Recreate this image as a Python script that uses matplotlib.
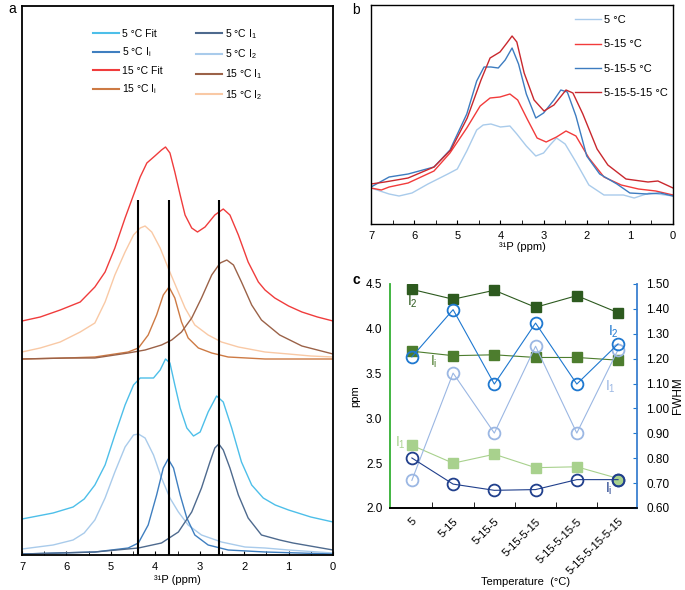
import matplotlib
matplotlib.use("Agg")
import matplotlib.pyplot as plt
from matplotlib.lines import Line2D
from matplotlib.ticker import MultipleLocator, FixedLocator

plt.rcParams['font.family'] = ['Liberation Sans', 'DejaVu Sans']
plt.rcParams['mathtext.default'] = 'regular'

# ---------------- Panel a data (ppm, intensity in arbitrary units) ----------------
a15_fit_ppm = [7.00, 6.59, 6.14, 5.69, 5.36, 5.13, 4.91, 4.68, 4.49, 4.34, 4.19, 4.01, 3.86, 3.77, 3.67, 3.56, 3.44, 3.33, 3.18, 3.05, 2.88, 2.66, 2.47, 2.32, 2.13, 1.91, 1.68, 1.53, 1.31, 1.00, 0.70, 0.35, 0.00]
a15_fit_int = [234, 238, 245, 253, 268, 283, 307, 337, 360, 378, 392, 399, 405, 408, 402, 383, 360, 340, 327, 323, 328, 340, 346, 340, 320, 293, 273, 265, 257, 249, 243, 238, 234]

a15_i2_ppm = [7.00, 6.59, 6.14, 5.69, 5.36, 5.13, 4.91, 4.68, 4.49, 4.34, 4.23, 4.08, 3.89, 3.71, 3.52, 3.33, 3.11, 2.81, 2.51, 2.13, 1.53, 1.00, 0.50, 0.00]
a15_i2_int = [203, 207, 213, 223, 232, 253, 280, 303, 320, 327, 329, 323, 307, 287, 267, 247, 230, 220, 213, 208, 203, 201, 199, 198]

a15_ii_ppm = [7.00, 6.00, 5.36, 4.91, 4.61, 4.38, 4.16, 3.97, 3.82, 3.69, 3.56, 3.41, 3.26, 3.03, 2.73, 2.36, 1.53, 0.00]
a15_ii_int = [196, 197, 198, 201, 203, 207, 220, 240, 260, 268, 257, 233, 217, 207, 202, 198, 196, 196]

a15_i1_ppm = [7.00, 6.00, 5.36, 4.61, 4.23, 3.86, 3.63, 3.41, 3.18, 2.96, 2.73, 2.54, 2.39, 2.24, 2.06, 1.83, 1.61, 1.20, 0.70, 0.35, 0.00]
a15_i1_int = [196, 197, 197, 202, 205, 210, 215, 223, 237, 257, 280, 292, 295, 290, 273, 250, 235, 220, 209, 205, 201]

a5_fit_ppm = [7.00, 6.30, 5.85, 5.60, 5.36, 5.13, 4.91, 4.68, 4.49, 4.34, 4.19, 4.04, 3.89, 3.77, 3.67, 3.56, 3.44, 3.29, 3.14, 2.99, 2.81, 2.62, 2.47, 2.28, 2.06, 1.83, 1.57, 1.30, 1.00, 0.50, 0.00]
a5_fit_int = [36, 42, 48, 56, 70, 90, 120, 150, 170, 177, 177, 177, 185, 196, 192, 170, 147, 127, 119, 123, 143, 159, 153, 127, 93, 70, 57, 50, 45, 38, 33]

a5_i2_ppm = [7.00, 6.30, 5.85, 5.60, 5.36, 5.13, 4.91, 4.68, 4.49, 4.38, 4.23, 4.04, 3.86, 3.67, 3.48, 3.26, 2.96, 2.51, 1.98, 1.53, 1.00, 0.00]
a5_i2_int = [6, 10, 15, 22, 35, 57, 83, 108, 120, 121, 117, 100, 77, 57, 43, 30, 20, 13, 8, 7, 5, 2]

a5_ii_ppm = [7.00, 5.36, 4.61, 4.38, 4.16, 3.97, 3.82, 3.71, 3.59, 3.44, 3.29, 3.11, 2.81, 2.36, 1.53, 0.00]
a5_ii_int = [1, 3, 7, 12, 30, 60, 87, 96, 87, 60, 37, 20, 10, 5, 3, 1]

a5_i1_ppm = [7.00, 5.36, 4.38, 3.86, 3.48, 3.18, 2.96, 2.77, 2.66, 2.57, 2.47, 2.32, 2.13, 1.91, 1.61, 1.20, 0.90, 0.00]
a5_i1_int = [1, 3, 7, 12, 23, 43, 67, 93, 107, 111, 105, 87, 60, 37, 20, 15, 12, 5]

vline_ppm = [4.39, 3.69, 2.57]
vline_top = 355

# ---------------- Panel b data ----------------
b_5_ppm = [7.00, 6.58, 6.35, 6.05, 5.68, 5.22, 5.00, 4.78, 4.55, 4.40, 4.22, 4.00, 3.78, 3.62, 3.40, 3.18, 3.00, 2.85, 2.70, 2.50, 2.25, 1.95, 1.60, 1.15, 0.90, 0.55, 0.00]
b_5_int = [36, 30, 28, 31, 40, 50, 55, 73, 94, 99, 100, 97, 98, 90, 78, 68, 71, 79, 86, 80, 62, 39, 29, 29, 26, 31, 28]

b_515_ppm = [7.00, 6.76, 6.58, 6.14, 5.54, 5.17, 4.78, 4.47, 4.24, 4.01, 3.78, 3.60, 3.38, 3.15, 2.94, 2.70, 2.48, 2.25, 1.95, 1.60, 1.20, 0.80, 0.40, 0.00]
b_515_int = [36, 34, 37, 41, 53, 71, 96, 118, 126, 127, 130, 124, 105, 86, 82, 87, 93, 88, 66, 47, 39, 35, 33, 29]

b_5155_ppm = [7.00, 6.58, 6.14, 5.54, 5.17, 4.78, 4.55, 4.38, 4.22, 4.05, 3.89, 3.73, 3.58, 3.40, 3.18, 3.00, 2.76, 2.60, 2.45, 2.25, 2.00, 1.70, 1.30, 1.00, 0.60, 0.30, 0.00]
b_5155_int = [37, 47, 50, 57, 74, 110, 143, 157, 157, 156, 164, 176, 160, 130, 106, 111, 124, 134, 132, 108, 68, 50, 40, 31, 30, 31, 28]

b_51515_ppm = [7.00, 6.68, 6.14, 5.54, 5.15, 4.77, 4.45, 4.24, 4.01, 3.85, 3.73, 3.62, 3.45, 3.22, 2.99, 2.76, 2.48, 2.32, 2.09, 1.76, 1.51, 1.09, 0.58, 0.35, 0.00]
b_51515_int = [40, 42, 46, 57, 74, 106, 144, 166, 172, 181, 188, 182, 151, 124, 113, 119, 134, 131, 110, 75, 59, 45, 42, 43, 36]

# ---------------- Panel c data ----------------
c_categories = ['5', '5-15', '5-15-5', '5-15-5-15', '5-15-5-15-5', '5-15-5-15-5-15']
c_ppm_I2 = [4.44, 4.33, 4.43, 4.24, 4.37, 4.18]
c_ppm_Ii = [3.75, 3.70, 3.71, 3.68, 3.68, 3.65]
c_ppm_I1 = [2.70, 2.50, 2.60, 2.45, 2.46, 2.33]
c_fwhm_I2 = [1.207, 1.397, 1.098, 1.343, 1.098, 1.259]
c_fwhm_I1 = [0.711, 1.142, 0.901, 1.250, 0.901, 1.236]
c_fwhm_Ii = [0.801, 0.696, 0.671, 0.674, 0.714, 0.714]

# ---------------- colours ----------------
col5fit, col5i, col5_1, col5_2 = '#4dbfe9', '#3f7fc0', '#4e6a8e', '#a9cbeb'
col15fit, col15i, col15_1, col15_2 = '#f03c3c', '#cd7a44', '#9b6248', '#f9c9a5'

W, H = 685, 590
fig = plt.figure(figsize=(W / 100, H / 100), dpi=100)


def box(l, t, r, b):
    return [l / W, 1 - b / H, (r - l) / W, (b - t) / H]


# ================= Panel a =================
axA = fig.add_axes(box(22, 6, 333, 555))
lw = 1.0
axA.plot(a15_fit_ppm, a15_fit_int, color=col15fit, lw=lw)
axA.plot(a15_i2_ppm, a15_i2_int, color=col15_2, lw=lw)
axA.plot(a15_ii_ppm, a15_ii_int, color=col15i, lw=lw)
axA.plot(a15_i1_ppm, a15_i1_int, color=col15_1, lw=lw)
axA.plot(a5_fit_ppm, a5_fit_int, color=col5fit, lw=lw)
axA.plot(a5_i2_ppm, a5_i2_int, color=col5_2, lw=lw)
axA.plot(a5_ii_ppm, a5_ii_int, color=col5i, lw=lw)
axA.plot(a5_i1_ppm, a5_i1_int, color=col5_1, lw=lw)
axA.vlines(vline_ppm, 0, vline_top, color='black', lw=1.5)
axA.set_xlim(7, 0)
axA.set_ylim(0, 549)
axA.set_yticks([])
axA.xaxis.set_major_locator(MultipleLocator(1))
axA.xaxis.set_minor_locator(MultipleLocator(0.5))
axA.tick_params(axis='x', which='both', direction='in', length=3, labelsize=8, pad=5)
for s in axA.spines.values():
    s.set_linewidth(1.3)
axA.set_xlabel('³¹P (ppm)', fontsize=8, labelpad=2)

handlesA = [Line2D([], [], color=c, lw=1.5) for c in
            [col5fit, col5i, col15fit, col15i, col5_1, col5_2, col15_1, col15_2]]
labelsA = ['5 °C Fit', '5 °C I$_{i}$', '15 °C Fit', '15 °C I$_{i}$',
           '5 °C I$_{1}$', '5 °C I$_{2}$', '15 °C I$_{1}$', '15 °C I$_{2}$']
axA.legend(handlesA, labelsA, ncol=2, frameon=False, fontsize=7.5,
           loc='upper left', bbox_to_anchor=(93 / W, 1 - 27 / H),
           bbox_transform=fig.transFigure, borderpad=0, borderaxespad=0,
           handlelength=2.5, handletextpad=0.3, labelspacing=0.62, columnspacing=3.2)
fig.text(8 / W, 1 - 9 / H, 'a', fontsize=10, ha='left', va='center')

# ================= Panel b =================
axB = fig.add_axes(box(371, 5, 673, 224))
axB.plot(b_5_ppm, b_5_int, color='#a9cbeb', lw=1.0, label='5 °C')
axB.plot(b_515_ppm, b_515_int, color='#f23b3b', lw=1.0, label='5-15 °C')
axB.plot(b_5155_ppm, b_5155_int, color='#3d7cc0', lw=1.0, label='5-15-5 °C')
axB.plot(b_51515_ppm, b_51515_int, color='#c9282e', lw=1.0, label='5-15-5-15 °C')
axB.set_xlim(7, 0)
axB.set_ylim(0, 219)
axB.set_yticks([])
axB.xaxis.set_major_locator(MultipleLocator(1))
axB.xaxis.set_minor_locator(MultipleLocator(0.5))
axB.tick_params(axis='x', which='both', direction='in', length=3, labelsize=8, pad=5)
for s in axB.spines.values():
    s.set_linewidth(1.0)
axB.set_xlabel('³¹P (ppm)', fontsize=8, labelpad=1)
axB.legend(frameon=False, fontsize=8, loc='upper left',
           bbox_to_anchor=(575 / W, 1 - 15 / H), bbox_transform=fig.transFigure,
           borderpad=0, borderaxespad=0, handlelength=2.35, handletextpad=0.28,
           labelspacing=1.3)
fig.text(352 / W, 1 - 10 / H, 'b', fontsize=10, ha='left', va='center')

# ================= Panel c =================
axC = fig.add_axes(box(390, 284, 637, 508))
axC2 = axC.twinx()
xs = list(range(len(c_categories)))

dg, mg, lg = '#2d5a1f', '#4d7d2e', '#a8d18d'
cb2, cb1, cbi = '#1e78d0', '#9bb7e3', '#203f8c'

axC.plot(xs, c_ppm_I2, color=dg, lw=0.8, marker='s', ms=7, mfc=dg, mec=dg, zorder=3)
axC.plot(xs, c_ppm_Ii, color=mg, lw=0.8, marker='s', ms=7, mfc=mg, mec=mg, zorder=3)
axC.plot(xs, c_ppm_I1, color=lg, lw=0.8, marker='s', ms=7, mfc=lg, mec=lg,
         markevery=[0, 1, 2, 3, 4], zorder=3)

axC2.plot(xs, c_fwhm_I1, color=cb1, lw=0.8, marker='o', ms=8.5, mfc='none', mec=cb1, mew=1.3)
axC2.plot(xs, c_fwhm_I2, color=cb2, lw=0.8, marker='o', ms=8.5, mfc='none', mec=cb2, mew=1.3)
axC2.plot(xs[-1:], c_fwhm_Ii[-1:], ls='none', marker='o', ms=8.5, mfc=lg, mec=cbi, mew=1.3)
axC2.plot(xs, c_fwhm_Ii, color=cbi, lw=0.8, marker='o', ms=8.5, mfc='none', mec=cbi, mew=1.3)

axC.set_xlim(-0.53, 5.46)
axC.set_ylim(2.0, 4.5)
axC2.set_ylim(0.6, 1.5)
axC.set_yticks([2.0, 2.5, 3.0, 3.5, 4.0, 4.5])
axC.set_yticklabels(['2.0', '2.5', '3.0', '3.5', '4.0', '4.5'])
axC2.set_yticks([0.6 + 0.1 * k for k in range(10)])
axC2.set_yticklabels(['%.2f' % (0.6 + 0.1 * k) for k in range(10)])
axC.tick_params(axis='y', length=0, labelsize=8.5, pad=5.5)
axC2.tick_params(axis='y', direction='in', length=3, color=cb2, labelsize=8.5, pad=6.5)

axC.set_xticks(xs)
axC.set_xticklabels(c_categories, rotation=45, ha='right', va='top',
                    rotation_mode='anchor', fontsize=8.2)
axC.xaxis.set_minor_locator(FixedLocator([0.5, 1.5, 2.5, 3.5, 4.5]))
axC.tick_params(axis='x', which='major', length=0, pad=6)
axC.tick_params(axis='x', which='minor', direction='in', length=4)

for ax in (axC, axC2):
    ax.spines['top'].set_visible(False)
axC.spines['left'].set_color('#33b033')
axC.spines['left'].set_linewidth(1.3)
axC2.spines['left'].set_visible(False)
axC2.spines['right'].set_color('#3a80d0')
axC2.spines['right'].set_linewidth(1.3)
axC.spines['right'].set_visible(False)
axC2.spines['bottom'].set_linewidth(1.2)
axC.spines['bottom'].set_linewidth(1.2)

axC.set_ylabel('ppm', fontsize=8, labelpad=4)
axC2.set_ylabel('FWHM', fontsize=8.5, labelpad=2)
axC.set_xlabel('Temperature  (°C)', fontsize=8)
axC.xaxis.set_label_coords(0.55, -69 / 224)

axC.text(0.02, 4.30, 'I$_{2}$', color=dg, fontsize=10, ha='center', va='center')
axC.text(0.54, 3.63, 'I$_{i}$', color=mg, fontsize=10, ha='center', va='center')
axC.text(-0.28, 2.73, 'I$_{1}$', color=lg, fontsize=10, ha='center', va='center')
axC2.text(4.89, 1.307, 'I$_{2}$', color=cb2, fontsize=10, ha='center', va='center')
axC2.text(4.82, 1.086, 'I$_{1}$', color=cb1, fontsize=10, ha='center', va='center')
axC2.text(4.77, 0.676, 'I$_{i}$', color=cbi, fontsize=10, ha='center', va='center')
fig.text(353 / W, 1 - 280 / H, 'c', fontsize=10, fontweight='bold', ha='left', va='center')

fig.savefig('out.png', dpi=100)
